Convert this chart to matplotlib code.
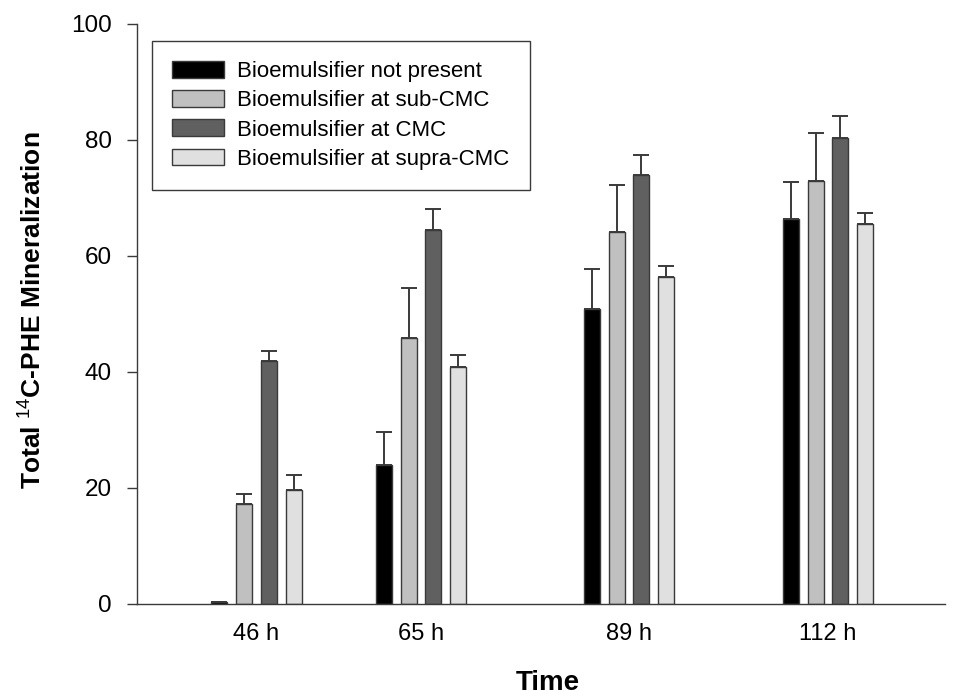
"""
Total 14C-PHE mineralization over time, grouped bars with upper error bars
"""

import matplotlib
matplotlib.use('Agg')
import matplotlib.pyplot as plt
import numpy as np

plt.rcParams['font.family'] = ['Liberation Sans', 'DejaVu Sans']
plt.rcParams['mathtext.fontset'] = 'custom'
plt.rcParams['mathtext.rm'] = 'Liberation Sans'
plt.rcParams['mathtext.bf'] = 'Liberation Sans:bold'

# Data
times = [46, 65, 89, 112]
time_labels = ['46 h', '65 h', '89 h', '112 h']
series_names = [
    'Bioemulsifier not present',
    'Bioemulsifier at sub-CMC',
    'Bioemulsifier at CMC',
    'Bioemulsifier at supra-CMC',
]
not_present = [0.3, 24.0, 50.9, 66.3]
sub_cmc = [17.2, 45.8, 64.1, 73.0]
at_cmc = [41.9, 64.5, 74.0, 80.3]
supra_cmc = [19.6, 40.9, 56.3, 65.5]

not_present_err = [0.0, 5.7, 6.9, 6.5]
sub_cmc_err = [1.8, 8.7, 8.1, 8.2]
at_cmc_err = [1.8, 3.6, 3.4, 3.9]
supra_cmc_err = [2.6, 2.1, 2.0, 1.9]

colors = ['#000000', '#c0c0c0', '#606060', '#e0e0e0']

values = [not_present, sub_cmc, at_cmc, supra_cmc]
errors = [not_present_err, sub_cmc_err, at_cmc_err, supra_cmc_err]

fig = plt.figure(figsize=(9.56, 6.98), dpi=100)
ax = fig.add_axes([137 / 956, 1 - 604 / 698, (945 - 137) / 956, (604 - 24) / 698])

step = 2.855   # hours between bar centers within a group
width = 1.85
x = np.array(times, dtype=float)
for i, (vals, errs, c, name) in enumerate(zip(values, errors, colors, series_names)):
    pos = x + (i - 1.5) * step
    ax.bar(pos, vals, width=width, color=c, edgecolor='#3a3a3a', linewidth=1.0,
           label=name, zorder=2)
    ax.errorbar(pos, vals, yerr=[np.zeros(len(errs)), errs], fmt='none',
                ecolor='#3a3a3a', elinewidth=1.4, capsize=5.8, capthick=1.4,
                zorder=1)

ax.set_xlim(32.2, 125.5)
ax.set_ylim(0, 100)
ax.set_yticks([0, 20, 40, 60, 80, 100])
ax.set_xticks(times)
ax.set_xticklabels(time_labels)

for side in ['top', 'right']:
    ax.spines[side].set_visible(False)
for side in ['left', 'bottom']:
    ax.spines[side].set_color('#3a3a3a')
    ax.spines[side].set_linewidth(1.0)

ax.tick_params(axis='y', direction='out', length=7, width=1.0, color='#3a3a3a',
               labelsize=17.5, pad=11)
ax.tick_params(axis='x', length=0, labelsize=17, pad=14)

fig.text(32 / 956, 1 - 310 / 698, r'Total $^{14}$C-PHE Mineralization',
         rotation=90, ha='center', va='center', fontsize=19, fontweight='bold')
fig.text(548 / 956, 1 - 683 / 698, 'Time', ha='center', va='center',
         fontsize=20, fontweight='bold')

leg = ax.legend(loc='upper left', bbox_to_anchor=(152 / 956, 1 - 41 / 698),
                bbox_transform=fig.transFigure, borderaxespad=0,
                fontsize=16, frameon=True, fancybox=False, framealpha=1,
                edgecolor='#3a3a3a', handlelength=2.35, handleheight=0.77,
                handletextpad=0.59, labelspacing=0.37, borderpad=0.9)
leg.get_frame().set_linewidth(1.0)

fig.savefig('out.png', dpi=100)
